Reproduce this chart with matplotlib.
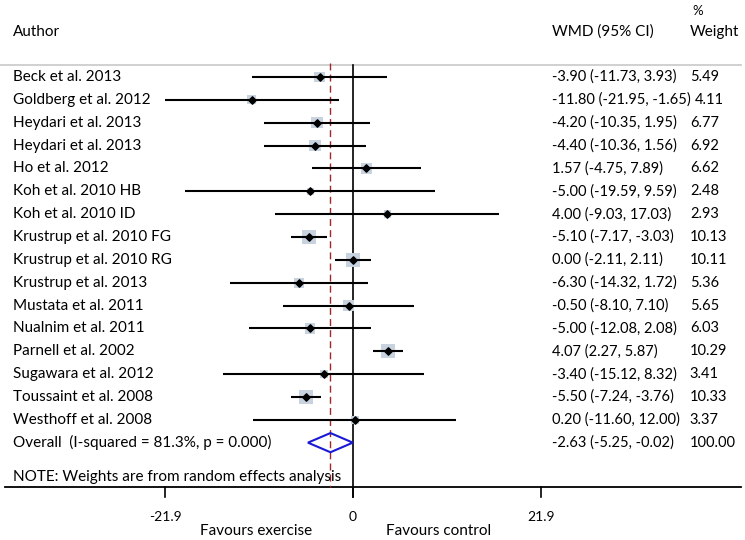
import matplotlib
import matplotlib.pyplot as plt
import numpy as np

matplotlib.use('Agg')
plt.rcParams['font.family'] = ['Lato', 'DejaVu Sans']

# study data
authors = ['Beck et al. 2013', 'Goldberg et al. 2012', 'Heydari et al. 2013', 'Heydari et al. 2013',
           'Ho et al. 2012', 'Koh et al. 2010 HB', 'Koh et al. 2010 ID', 'Krustrup et al. 2010 FG',
           'Krustrup et al. 2010 RG', 'Krustrup et al. 2013', 'Mustata et al. 2011', 'Nualnim et al. 2011',
           'Parnell et al. 2002', 'Sugawara et al. 2012', 'Toussaint et al. 2008', 'Westhoff et al. 2008']
wmd = [-3.90, -11.80, -4.20, -4.40, 1.57, -5.00, 4.00, -5.10, 0.00, -6.30, -0.50, -5.00, 4.07, -3.40, -5.50, 0.20]
ci_low = [-11.73, -21.95, -10.35, -10.36, -4.75, -19.59, -9.03, -7.17, -2.11, -14.32, -8.10, -12.08, 2.27,
          -15.12, -7.24, -11.60]
ci_high = [3.93, -1.65, 1.95, 1.56, 7.89, 9.59, 17.03, -3.03, 2.11, 1.72, 7.10, 2.08, 5.87, 8.32, -3.76, 12.00]
weights = [5.49, 4.11, 6.77, 6.92, 6.62, 2.48, 2.93, 10.13, 10.11, 5.36, 5.65, 6.03, 10.29, 3.41, 10.33, 3.37]

overall_label = 'Overall  (I-squared = 81.3%, p = 0.000)'
overall = -2.63
overall_low = -5.25
overall_high = -0.02
overall_weight = 100.00
tick_values = [-21.9, 0, 21.9]

n = len(authors)
rows = np.arange(n)
overall_row = n

fig = plt.figure(figsize=(7.45, 5.40), dpi=100)
ax = fig.add_axes([0, 0, 1, 1])
ax.set_xlim(-41.12, 45.66)
ax.set_ylim(20.26, -3.37)
ax.axis('off')
tr = ax.get_yaxis_transform()  # x in axes fraction, y in rows

fs = 11
x_author, x_wmd, x_weight = 0.017, 0.741, 0.926

# header
ax.text(x_author, -1.97, 'Author', transform=tr, fontsize=fs, va='center')
ax.text(x_wmd, -1.97, 'WMD (95% CI)', transform=tr, fontsize=fs, va='center')
ax.text(x_weight + 0.004, -2.9, '%', transform=tr, fontsize=fs - 1.5, va='center')
ax.text(x_weight, -1.97, 'Weight', transform=tr, fontsize=fs, va='center')

# frame lines
ax.plot([-41.12, 45.2], [-0.52, -0.52], color='#c8c8c8', lw=1.2)
ax.plot([-40.5, 45.2], [17.94, 17.94], color='black', lw=1.3)
ax.plot([0, 0], [-0.52, 18.4], color='black', lw=1.2)
for t in tick_values:
    ax.plot([t, t], [17.94, 18.4], color='black', lw=1.2)
    ax.text(t, 19.25, f'{t:g}', fontsize=fs - 1, ha='center', va='center')
ax.text(-11.3, 19.85, 'Favours exercise', fontsize=fs, ha='center', va='center')
ax.text(10.0, 19.85, 'Favours control', fontsize=fs, ha='center', va='center')

# overall effect line
ax.plot([overall, overall], [-0.6, 17.94], color='#a0282d', lw=1.0, ls=(0, (5, 3)))

# studies
ax.scatter(wmd, rows, s=np.array(weights) * 10, marker='s', color='#c9d3df', zorder=2, linewidths=0)
ax.hlines(rows, ci_low, ci_high, color='black', lw=1.5, zorder=3)
ax.scatter(wmd, rows, s=14, marker='D', color='black', zorder=4)

wmd_texts, weight_texts = [], []
for i in range(n):
    ax.text(x_author, i, authors[i], transform=tr, fontsize=fs, va='center')
    wmd_texts.append(ax.text(x_wmd, i, f'{wmd[i]:.2f} ({ci_low[i]:.2f}, {ci_high[i]:.2f})', transform=tr,
                             fontsize=fs - 0.5, va='center'))
    weight_texts.append(ax.text(x_weight, i, f'{weights[i]:.2f}', transform=tr, fontsize=fs - 0.5,
                                va='center'))

# overall diamond
ax.fill([overall_low, overall, overall_high, overall, overall_low],
        [overall_row, overall_row - 0.42, overall_row, overall_row + 0.42, overall_row],
        facecolor='none', edgecolor='#1a1ad6', lw=1.5, zorder=3)
ax.text(x_author, overall_row, overall_label, transform=tr, fontsize=fs, va='center')
ax.text(x_wmd, overall_row, f'{overall:.2f} ({overall_low:.2f}, {overall_high:.2f})', transform=tr,
        fontsize=fs - 0.5, va='center')
ax.text(x_weight, overall_row, f'{overall_weight:.2f}', transform=tr, fontsize=fs - 0.5, va='center')
ax.text(x_author, 17.5, 'NOTE: Weights are from random effects analysis', transform=tr, fontsize=fs,
        va='center')

# push a weight to the right when the CI text runs into it (as Stata does)
fig.canvas.draw()
renderer = fig.canvas.get_renderer()
for wt, ct in zip(weight_texts, wmd_texts):
    end = ct.get_window_extent(renderer).x1 + 4
    start = wt.get_window_extent(renderer).x0
    if end > start:
        wt.set_x(end / fig.bbox.width)

fig.savefig('out.png', dpi=100)
